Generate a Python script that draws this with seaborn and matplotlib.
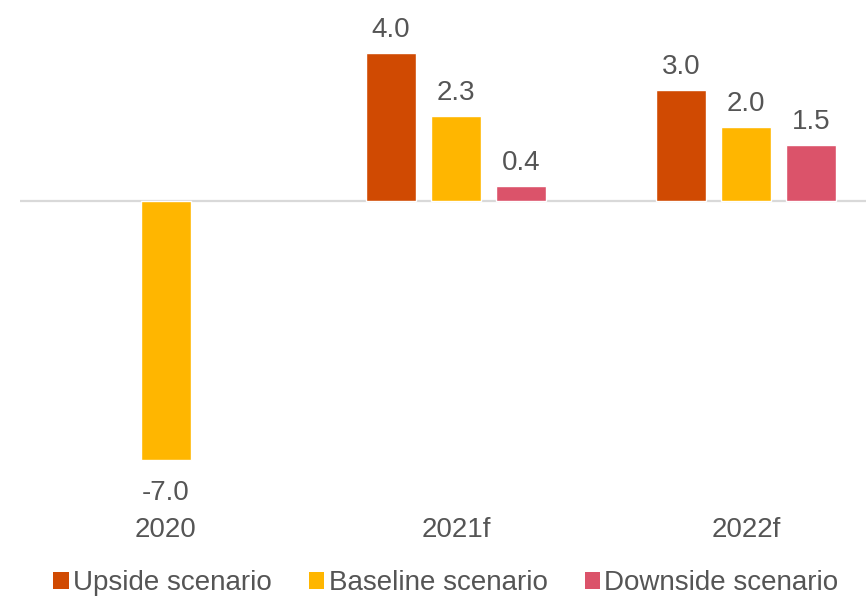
import numpy as np
import pandas as pd
import seaborn as sns
import matplotlib.pyplot as plt
from matplotlib.patches import Patch

years = ["2020", "2021f", "2022f"]
scenarios = ["Upside scenario", "Baseline scenario", "Downside scenario"]
upside = [np.nan, 4.0, 3.0]
baseline = [-7.0, 2.3, 2.0]
downside = [np.nan, 0.4, 1.5]
colors = ["#D04A02", "#FFB600", "#DB536A"]

df = pd.DataFrame({
    "year": years * 3,
    "scenario": [s for s in scenarios for _ in years],
    "value": upside + baseline + downside,
})

sns.set_theme(style="white")
plt.rcParams["font.family"] = ["Liberation Sans", "DejaVu Sans"]
text_color = "#555555"
fs = 20

fig = plt.figure(figsize=(8.66, 5.98), dpi=100)
ax = fig.add_axes([20 / 866, 1 - 470 / 598, 846 / 866, 470 / 598])

sns.barplot(data=df, x="year", y="value", hue="scenario", hue_order=scenarios,
            order=years, palette=colors, width=0.672, gap=0.23,
            errorbar=None, legend=False, ax=ax, saturation=1)

ax.set_xlim(-0.503, 2.414)
ax.set_ylim(-7.27, 5.43)
ax.axhline(0, color="#D9D9D9", lw=1.6, zorder=0.5)

for sp in ax.spines.values():
    sp.set_visible(False)
ax.set_yticks([])
ax.set_xlabel("")
ax.set_ylabel("")
ax.tick_params(axis="x", length=0, pad=34, labelsize=fs, labelcolor=text_color)

# value labels
for container in ax.containers:
    for bar in container:
        v = bar.get_height()
        if np.isnan(v):
            continue
        xc = bar.get_x() + bar.get_width() / 2
        if v >= 0:
            ax.annotate(f"{v:.1f}", (xc, v), xytext=(0, 11.5), textcoords="offset points",
                        ha="center", va="baseline", fontsize=fs, color=text_color)
        else:
            ax.annotate(f"{v:.1f}", (xc, v), xytext=(0, -14.5), textcoords="offset points",
                        ha="center", va="top", fontsize=fs, color=text_color)

handles = [Patch(facecolor=c, edgecolor="none", label=s) for c, s in zip(colors, scenarios)]
fig.legend(handles=handles, loc="center", bbox_to_anchor=(446 / 866, 1 - 583 / 598),
           ncol=3, frameon=False, fontsize=fs, handlelength=0.55, handleheight=0.55,
           handletextpad=0.15, columnspacing=1.35, labelcolor=text_color)

fig.savefig("out.png", dpi=100)
